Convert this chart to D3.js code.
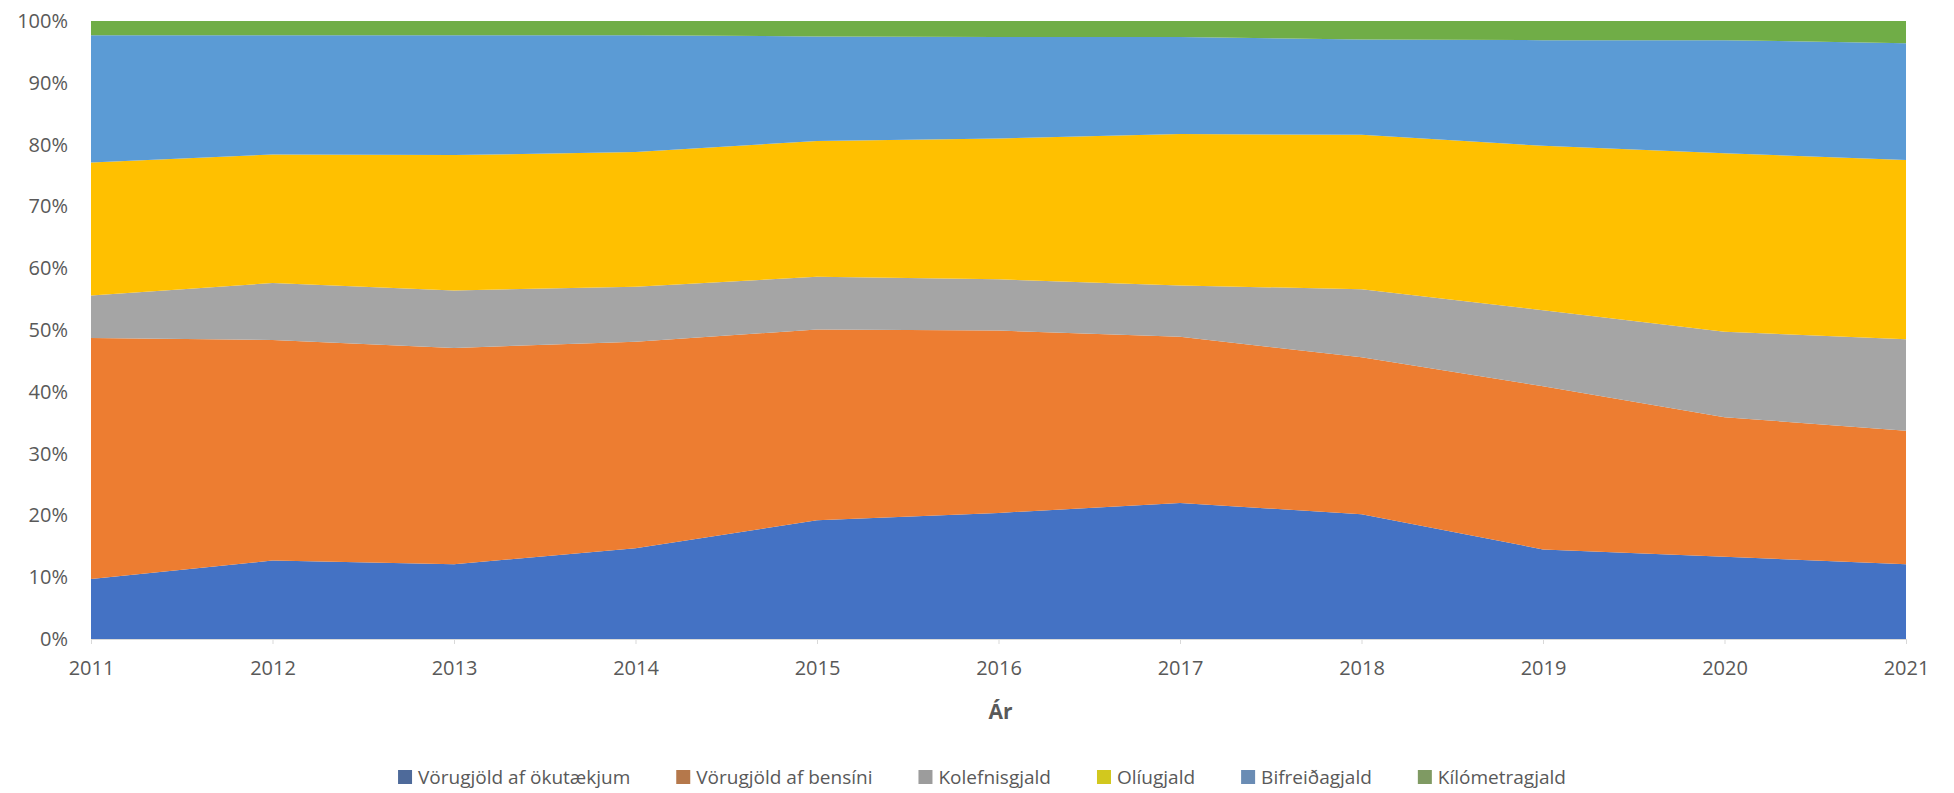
<!DOCTYPE html>
<html>
<head>
<meta charset="utf-8">
<script src="https://cdn.jsdelivr.net/npm/d3@7"></script>
<style>
  body { margin: 0; background: #fff; }
  text { font-family: "Open Sans", "Noto Sans", sans-serif; fill: #595959; }
</style>
</head>
<body>
<div id="chart"></div>
<script>
var svgWidth = 1954;
var svgHeight = 793;

var margin = { top: 21, right: 48, bottom: 154, left: 91 };
var width = svgWidth - margin.left - margin.right;
var height = svgHeight - margin.top - margin.bottom;

// data (shares, %)
var years = [2011, 2012, 2013, 2014, 2015, 2016, 2017, 2018, 2019, 2020, 2021];
var seriesNames = ["Vörugjöld af ökutækjum", "Vörugjöld af bensíni", "Kolefnisgjald", "Olíugjald", "Bifreiðagjald", "Kílómetragjald"];
var okutaeki = [9.7, 12.7, 12.1, 14.7, 19.2, 20.4, 22.0, 20.2, 14.5, 13.3, 12.1];
var bensin = [39.0, 35.7, 35.0, 33.4, 30.9, 29.5, 26.9, 25.4, 26.4, 22.6, 21.6];
var kolefni = [6.9, 9.2, 9.3, 8.9, 8.5, 8.3, 8.3, 11.0, 12.3, 13.8, 14.8];
var oliu = [21.5, 20.8, 21.9, 21.8, 22.0, 22.8, 24.5, 25.0, 26.6, 28.9, 29.0];
var bifreida = [20.6, 19.3, 19.4, 18.9, 16.9, 16.4, 15.7, 15.4, 17.1, 18.3, 18.9];
var kilometra = [2.3, 2.3, 2.3, 2.3, 2.5, 2.6, 2.6, 3.0, 3.1, 3.1, 3.6];
var yTicks = [0, 0.1, 0.2, 0.3, 0.4, 0.5, 0.6, 0.7, 0.8, 0.9, 1];

var colors = ["#4472c4", "#ed7d31", "#a5a5a5", "#ffc000", "#5b9bd5", "#70ad47"];
var legendColors = ["#4e6a9a", "#b5784b", "#9c9c9c", "#d2c81e", "#6a8cb4", "#7f9a63"];

// build table for d3.stack
var allSeries = [okutaeki, bensin, kolefni, oliu, bifreida, kilometra];
var table = years.map(function (yr, i) {
  var row = { year: yr };
  seriesNames.forEach(function (name, j) { row[name] = allSeries[j][i]; });
  return row;
});

var stacked = d3.stack()
  .keys(seriesNames)
  .offset(d3.stackOffsetExpand)(table);

var svg = d3.select("#chart")
  .append("svg")
  .attr("width", svgWidth)
  .attr("height", svgHeight);

var chartGroup = svg.append("g")
  .attr("transform", `translate(${margin.left}, ${margin.top})`);

var xScale = d3.scaleLinear()
  .domain(d3.extent(years))
  .range([0, width]);

var yScale = d3.scaleLinear()
  .domain([0, 1])
  .range([height, 0]);

var area = d3.area()
  .x(d => xScale(d.data.year))
  .y0(d => yScale(d[0]))
  .y1(d => yScale(d[1]));

chartGroup.selectAll("path.layer")
  .data(stacked)
  .enter()
  .append("path")
  .attr("class", "layer")
  .attr("d", area)
  .attr("fill", (d, i) => colors[i]);

// x axis: faint baseline with ticks
var bottomAxis = d3.axisBottom(xScale)
  .tickValues(years)
  .tickFormat(d3.format("d"))
  .tickSize(5)
  .tickPadding(17);

var xAxis = chartGroup.append("g")
  .attr("transform", `translate(0, ${height})`)
  .call(bottomAxis);
xAxis.select(".domain").attr("stroke", "#d9d9d9");
xAxis.selectAll(".tick line").attr("stroke", "#d9d9d9");
xAxis.selectAll("text").style("font-size", "20px").attr("fill", "#595959");

// y axis: labels only
var leftAxis = d3.axisLeft(yScale)
  .tickValues(yTicks)
  .tickFormat(d3.format(".0%"))
  .tickSize(0)
  .tickPadding(23);

var yAxis = chartGroup.append("g").call(leftAxis);
yAxis.select(".domain").remove();
yAxis.selectAll("text").style("font-size", "20px").attr("fill", "#595959");

// axis title
chartGroup.append("text")
  .attr("x", width / 2 + 2)
  .attr("y", height + 80)
  .attr("text-anchor", "middle")
  .style("font-size", "21px")
  .style("font-weight", "bold")
  .text("Ár");

// legend
var legend = svg.append("g").attr("transform", "translate(0, 777)");
var items = legend.selectAll("g")
  .data(seriesNames)
  .enter()
  .append("g");

items.append("rect")
  .attr("width", 14)
  .attr("height", 14)
  .attr("y", -7)
  .attr("fill", (d, i) => legendColors[i]);

items.append("text")
  .attr("x", 20)
  .attr("dy", "0.35em")
  .style("font-size", "19px")
  .text(d => d);

var gap = 46;
var widths = [];
items.each(function () { widths.push(this.getBBox().width); });
var total = d3.sum(widths) + gap * (widths.length - 1);
var xPos = 982 - total / 2;
items.attr("transform", function (d, i) {
  var t = `translate(${xPos}, 0)`;
  xPos += widths[i] + gap;
  return t;
});
</script>
</body>
</html>
